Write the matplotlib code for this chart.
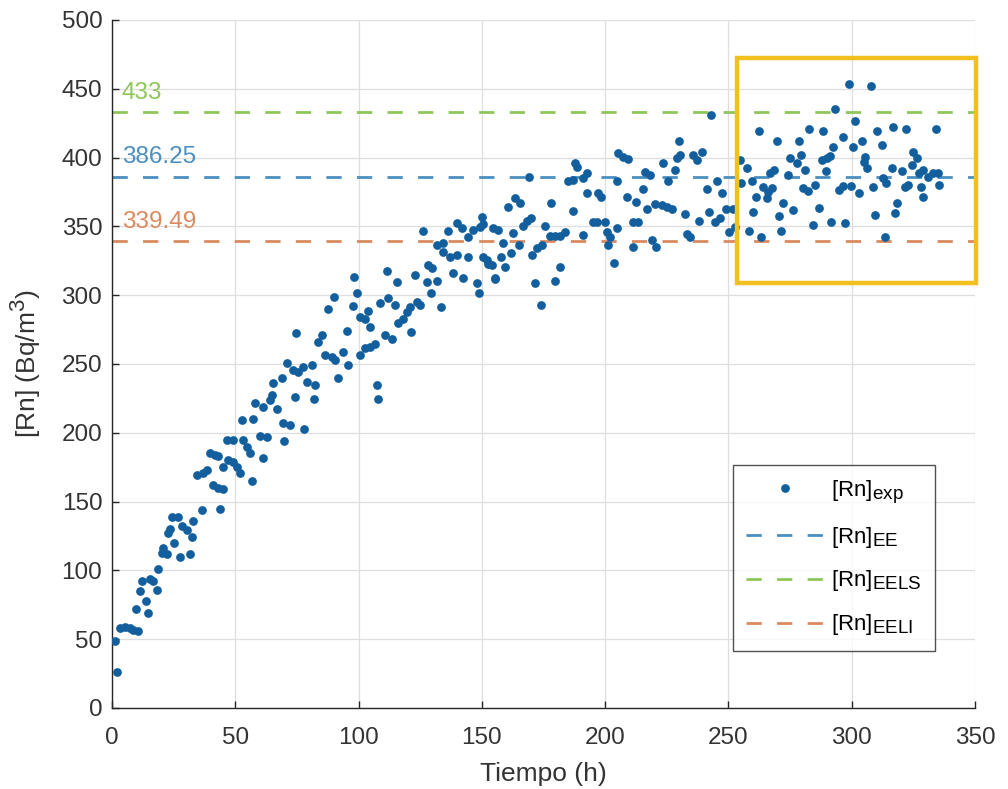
import matplotlib
matplotlib.use("Agg")
import matplotlib.pyplot as plt
from matplotlib.patches import Rectangle
import numpy as np
try:
    import matplotlib._mathtext as _mt
    _mt.SHRINK_FACTOR = 0.85
except Exception:
    pass

plt.rcParams['font.family'] = ['Liberation Sans', 'DejaVu Sans']
plt.rcParams['mathtext.fontset'] = 'custom'
plt.rcParams['mathtext.rm'] = 'Liberation Sans'
plt.rcParams['mathtext.it'] = 'Liberation Sans'

# ---- data ----
t_exp = [2.2,1.2,3.2,5.3,7.3,8.5,10.6,9.7,14.7,13.8,11.4,12,15.4,16.8,18.1,18.8,20.1,20.8,22.2,27.6,31.6,25.1,22.8,23.5,28.3,30.3,32.3,33,24.2,26.9,36.4,43.8,34.3,37,38.4,39.7,41.8,43.1,41,43.1,44.9,45.1,47.2,49.2,50.6,51.9,56.6,46.5,49.2,53.2,54.6,56,61.4,52.6,57.3,60,62.7,69.5,72.2,69.7,58,61.4,66.8,64.8,64,65.4,74.2,
         77.9,82,68.8,70.8,73.5,75.5,77.6,81,79,82.3,74.6,86.4,89.1,90.4,93.8,95.8,91.8,83.7,85,95.2,87.7,90,97.6,99.2,98.1,100.6,102.6,103.9,104.6,100.6,102.6,104.6,106.6,107.3,108,108.7,112,114.8,111.4,110.7,113.4,115.4,116.1,118.2,119.5,120.8,121.1,123.6,124.9,122.9,126,127.6,128.3,129.6,131.7,129.2,133.3,131.7,134.3,134.3,137.1,139.8,144.5,136.4,139.8,141.8,144.5,146.5,149.9,149.2,138.2,142.2,147.9,148.9,150.6,152.6,154.6,156.7,155.3,
         150.6,151.9,154,155.3,157.6,159.4,161.7,158.4,160.7,163.4,165.5,162.5,165.2,166.8,168.2,169.8,169.2,170.2,171.5,173.8,172.2,174.2,175.6,177.9,177.6,179.6,181.7,183.7,179.6,181.7,185,187,187.7,188.4,191.1,192.5,186.8,190.9,192.5,195.2,197.2,198.5,196.5,199.9,200.6,202,201.3,203.7,204.7,204.7,205.3,207.3,209.4,208.7,212.7,211.4,213.4,211.1,219.2,220.8,215.4,216.1,218.2,216.8,220.2,222.9,224.9,227,223.3,225.6,228.3,229,230.3,229.9,232.4,233.3,234.4,238.2,235.7,237.1,239.1,242.9,241.2,242.2,244.5,246.5,249,245.5,247.3,250.3,252.6,
         251.7,254.7,257.4,255.3,259.4,262.5,258.4,263.4,260,261.2,264.1,266.1,267.5,265.5,266.8,268.4,269.8,272.2,270.6,271.3,274.2,276,274.9,278.7,279.6,277.9,281,282.8,288.4,280.3,282.3,285.1,284.4,286.9,287.8,289.8,291.2,292.5,289.4,296.5,293.2,291.8,294.9,297.2,296.5,299.9,303,299,300.6,301.3,304,305.3,306,304.9,308,308.7,309.4,310.3,312.1,312.5,313.5,314.1,316.2,316.8,317.5,318.5,320.2,321.6,322,322.9,325,324.3,326.3,327.4,329,328.3,329,331,333,335.1,335.5,334.1]
rn_exp = [26.4,48.7,58,59,58,57,56,72,69,78,85,92.5,94,92,86,101,113,116,112,109.5,112,120,127,130,132,129,124.5,136,139,139,144,144.4,169,170.5,173,185,184,183,162,160,159,175,180,179,175.5,171,165,195,195,195,190,185.5,182,209,210,198,197,207,206,194,222,219,217,227.5,224,236.4,226,
          202.5,224.5,240,251,245.6,244.5,247.6,249,237,235,272.7,256.5,255,252.9,259,249,240,266,271,274,290,299,292,301.5,313.5,284.5,282.5,288.7,277,256.5,261.4,262.6,264.3,234.7,224.3,294,297.8,292.9,317.8,271,268,309.8,279.6,282.5,288,291.6,273.5,295.3,292.9,314.7,346.7,309.8,322,319.6,310.6,301.8,291.6,336.3,337.7,331.6,328,329.2,328,346.9,352.7,348.6,342.5,347.4,357,349.7,315.9,312.2,308.6,301.8,328,323,348.6,347.4,312.2,
          352,325.6,322,311.5,328,320.7,331,337.7,364.3,370.4,366.8,345.3,336.5,350,353.7,356.2,385.7,329.2,308.6,292.9,334,336.5,350,366.8,342.7,342.7,342.7,346.1,310.3,320.7,383.2,383.7,396.3,393,385,389,361.4,343.8,374.5,353.4,374,371.6,353.4,353.4,346.1,342.5,336.5,323.6,348.6,383.2,403.5,400.6,398.7,371.6,368,353.4,353.4,335.2,340.1,335.2,377.3,389.4,387,362.8,366.5,365.3,364.1,362.8,396.3,383.2,391,399.5,401.9,412.3,359.2,344.8,342.4,353.8,401.9,398.3,403.9,431,377.3,360.7,353.4,355.9,362.4,383.2,374.1,346.2,349.8,
          363,398.3,392.2,381.3,383.2,419.5,346.9,342.5,360.7,371.6,378.9,375.3,377.7,370.4,388.6,391,412.3,366.8,357.6,346.7,387.4,361.9,399.5,412.3,401.9,395.9,391,420.8,419.5,377.7,375.7,380.1,351,363.1,398.3,399.5,401.2,407.9,390.3,415.2,435,353.4,376.5,352.7,379.4,379.4,374.1,453.3,407.4,426.7,412.3,400.6,392.2,397,451.9,378.9,358.3,419.5,409.2,385,342.5,381.8,392.2,422.5,359.5,367.3,390.3,378.9,420.8,380.1,404.2,394.6,399.5,388.6,391,378.9,371.6,386.1,388.6,388.6,380.1,420.8]

rn_ee = 386.25
rn_eels = 433
rn_eeli = 339.49
level_values = [rn_ee, rn_eels, rn_eeli]
level_texts = ['386.25', '433', '339.49']
legend_labels = [r'[Rn]$_{\mathrm{exp}}$', r'[Rn]$_{\mathrm{EE}}$', r'[Rn]$_{\mathrm{EELS}}$', r'[Rn]$_{\mathrm{EELI}}$']
xticks = [0, 50, 100, 150, 200, 250, 300, 350]
yticks = [0, 50, 100, 150, 200, 250, 300, 350, 400, 450, 500]
box_x = (253.4, 350.4)
box_y = (308.9, 472.4)

# ---- style ----
c_dot = '#135f9e'
c_ee = '#4a8fc0'
c_eels = '#8ec65a'
c_eeli = '#d98a5e'
level_colors = [c_ee, c_eels, c_eeli]
txt_col = '#333333'

fig = plt.figure(figsize=(10.08, 7.89), dpi=100)
ax = fig.add_axes([112/1008, 1-708/789, 863/1008, 688/789])

ax.plot(t_exp, rn_exp, 'o', color=c_dot, markersize=6.3, markeredgewidth=0, label=legend_labels[0], zorder=3)
for val, col, lab in zip(level_values, level_colors, legend_labels[1:]):
    ax.axhline(val, color=col, lw=2.0, dashes=(5.5, 5.5), label=lab, zorder=2)
for val, col, txt in zip(level_values, level_colors, level_texts):
    ax.text(4, val + 9.5, txt, color=col, fontsize=17.5, ha='left', va='baseline', zorder=4)

ax.set_xlim(0, 350)
ax.set_ylim(0, 500)
ax.set_xticks(xticks)
ax.set_yticks(yticks)
ax.grid(True, color='#dedede', lw=0.9)
ax.set_axisbelow(True)
for s in ['top', 'right']:
    ax.spines[s].set_visible(False)
for s in ['left', 'bottom']:
    ax.spines[s].set_color('#262626')
    ax.spines[s].set_linewidth(1.0)
ax.tick_params(direction='in', length=5, width=1.0, colors='#262626', labelcolor=txt_col, labelsize=17.5)
ax.tick_params(axis='x', pad=14)
ax.tick_params(axis='y', pad=7)
ax.set_xlabel('Tiempo (h)', fontsize=19, color=txt_col, labelpad=9)
ax.set_ylabel(r'[Rn] (Bq/m$^3$)', fontsize=19, color=txt_col, labelpad=13)

ax.add_patch(Rectangle((box_x[0], box_y[0]), box_x[1]-box_x[0], box_y[1]-box_y[0],
                       fill=False, edgecolor='#f2c01e', lw=3.2, clip_on=False, zorder=5))

leg = ax.legend(loc='upper left', bbox_to_anchor=(0.7196, 0.3532), fontsize=16, frameon=True,
                fancybox=False, edgecolor='#262626', handlelength=3.5, handletextpad=0.3,
                borderpad=0.6, labelspacing=0.85, numpoints=1, borderaxespad=0)
leg.get_frame().set_linewidth(1.0)

fig.savefig('out.png', dpi=100)
